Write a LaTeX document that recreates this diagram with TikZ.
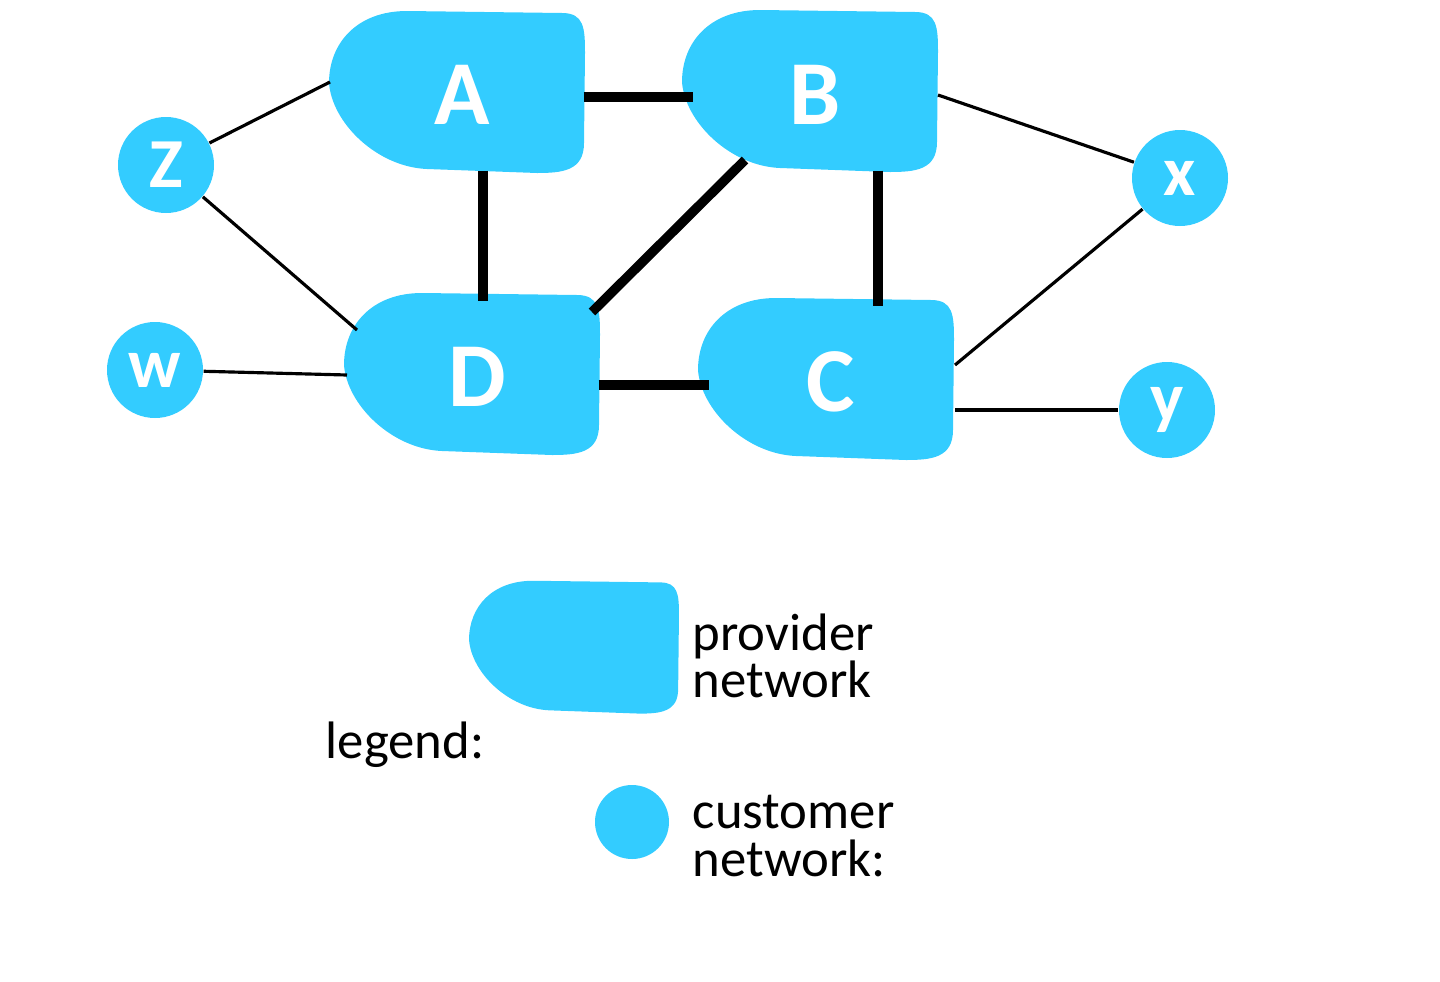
\documentclass[tikz,border=0pt]{standalone}
\usepackage{fontspec}
\setmainfont{Carlito}
\definecolor{net}{RGB}{51,204,255}
\begin{document}
\begin{tikzpicture}[
  prov/.style={rectangle, minimum width=2.42cm, minimum height=1.5cm, inner sep=0pt, text=white, font=\fontsize{26}{26}\bfseries\selectfont},
  cust/.style={circle, fill=net, minimum size=0.96cm, inner sep=0pt, text=white, font=\fontsize{20}{20}\bfseries\selectfont},
  thick link/.style={line width=2.7pt},
  thin link/.style={line width=0.9pt},
  lbl/.style={font=\fontsize{15}{13.5}\selectfont, align=left, anchor=west, inner sep=0pt}
]
\useasboundingbox (0,0) rectangle (14.4,-9.81);
\newcommand{\provblob}[2][1]{%
  \fill[net, shift={(#2)}, scale=#1] (-0.5,0.82) -- (1.05,0.8) .. controls (1.27,0.8) and (1.28,0.65) .. (1.28,0.4)
   -- (1.27,-0.5) .. controls (1.27,-0.78) and (1.05,-0.8) .. (0.8,-0.8)
   -- (-0.3,-0.76) .. controls (-0.8,-0.74) and (-1.25,-0.3) .. (-1.28,0.1)
   .. controls (-1.28,0.5) and (-1.0,0.82) .. (-0.5,0.82) -- cycle;}
\provblob{4.57,-0.93}
\provblob{8.10,-0.92}
\provblob{4.72,-3.75}
\provblob{8.26,-3.80}
\provblob[0.82]{5.74,-6.48}
\node[prov] (A) at (4.62,-0.95) {A};
\node[prov] (B) at (8.15,-0.95) {B};
\node[prov] (D) at (4.77,-3.77) {D};
\node[prov] (C) at (8.31,-3.82) {C};
\node[cust] (z) at (1.66,-1.65) {Z};
\node[cust] (w) at (1.55,-3.70) {w};
\node[cust] (x) at (11.80,-1.78) {x};
\node[cust] (y) at (11.67,-4.10) {y};
\draw[thick link] (A.east |- 0,-0.97) -- (B.west |- 0,-0.97);
\draw[thick link] (A.south -| 4.83,0) -- (D.north -| 4.83,0);
\draw[thick link] (7.45,-1.60) -- (5.92,-3.12);
\draw[thick link] (B.south -| 8.78,0) -- (C.north -| 8.78,0);
\draw[thick link] (D.east |- 0,-3.85) -- (C.west |- 0,-3.85);
\draw[thin link] (z) -- (3.30,-0.82);
\draw[thin link] (z) -- (3.57,-3.30);
\draw[thin link] (w) -- (3.47,-3.75);
\draw[thin link] (9.38,-0.95) -- (x);
\draw[thin link] (x) -- (9.55,-3.65);
\draw[thin link] (9.55,-4.10) -- (y);
\node[cust, minimum size=0.74cm] (leg) at (6.32,-8.22) {};
\node[lbl] (pn) at (6.92,-6.56) {provider\\network};
\node[lbl] (cn) at (6.92,-8.36) {customer\\network:};
\node[lbl, anchor=center] (lg) at (4.05,-7.45) {legend:};
\end{tikzpicture}
\end{document}
